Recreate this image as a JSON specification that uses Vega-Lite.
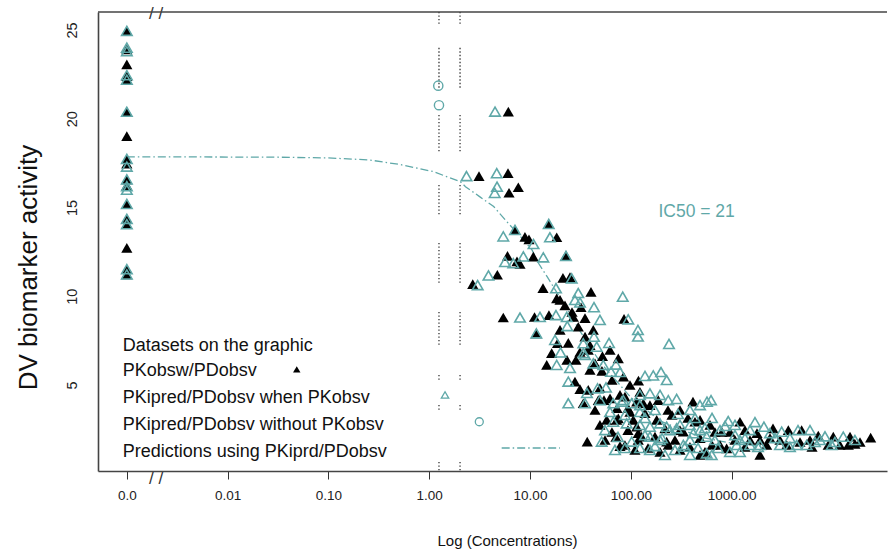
{
  "$schema": "https://vega.github.io/schema/vega-lite/v6.json",
  "width": 789,
  "height": 459,
  "autosize": {"type": "none"},
  "padding": {"left": 98, "top": 12, "right": 1, "bottom": 80},
  "background": "white",
  "config": {
    "view": {"stroke": null},
    "font": "Liberation Sans",
    "axis": {"grid": false, "labelFont": "Liberation Sans", "titleFont": "Liberation Sans", "labelColor": "#222", "titleColor": "#111", "titleFontWeight": "normal", "domainColor": "#444", "domainWidth": 1.6, "tickColor": "#333"}
  },
  "datasets": {
    "pkobs": [
      {"log_conc": -3, "activity": 24.95}, {"log_conc": -3, "activity": 23.9}, {"log_conc": -3, "activity": 23.06}, {"log_conc": -3, "activity": 22.4}, {"log_conc": -3, "activity": 22.2}, {"log_conc": -3, "activity": 20.39}, {"log_conc": -3, "activity": 19.02}, {"log_conc": -3, "activity": 17.73}, {"log_conc": -3, "activity": 17.47}, {"log_conc": -3, "activity": 16.58}, {"log_conc": -3, "activity": 16.24}, {"log_conc": -3, "activity": 15.2}, {"log_conc": -3, "activity": 14.36}, {"log_conc": -3, "activity": 14.06}, {"log_conc": -3, "activity": 12.72}, {"log_conc": -3, "activity": 11.52}, {"log_conc": -3, "activity": 11.23},
      {"log_conc": 0.785, "activity": 20.4}, {"log_conc": 0.494, "activity": 16.77}, {"log_conc": 0.782, "activity": 16.93}, {"log_conc": 0.792, "activity": 15.83}, {"log_conc": 0.884, "activity": 16.14},
      {"log_conc": 1.186, "activity": 14.07}, {"log_conc": 0.851, "activity": 13.73}, {"log_conc": 0.95, "activity": 13.34}, {"log_conc": 0.99, "activity": 13.2}, {"log_conc": 1.265, "activity": 13.32},
      {"log_conc": 0.777, "activity": 12.27}, {"log_conc": 0.871, "activity": 11.96}, {"log_conc": 0.901, "activity": 11.82}, {"log_conc": 1.033, "activity": 12.23}, {"log_conc": 1.357, "activity": 12.3},
      {"log_conc": 0.676, "activity": 11.21}, {"log_conc": 0.432, "activity": 10.68}, {"log_conc": 1.327, "activity": 11.03}, {"log_conc": 1.397, "activity": 11.08}, {"log_conc": 1.129, "activity": 10.46}, {"log_conc": 1.605, "activity": 10.24},
      {"log_conc": 1.265, "activity": 9.88}, {"log_conc": 1.347, "activity": 9.48}, {"log_conc": 1.506, "activity": 9.38}, {"log_conc": 0.735, "activity": 8.8}, {"log_conc": 1.045, "activity": 8.83}, {"log_conc": 1.188, "activity": 8.94}, {"log_conc": 1.43, "activity": 8.83}, {"log_conc": 1.479, "activity": 8.28}, {"log_conc": 1.933, "activity": 8.72},
      {"log_conc": 1.063, "activity": 7.91}, {"log_conc": 1.628, "activity": 8.1}, {"log_conc": 1.546, "activity": 7.72}, {"log_conc": 1.273, "activity": 7.35}, {"log_conc": 1.38, "activity": 7.37}, {"log_conc": 1.215, "activity": 6.79}, {"log_conc": 1.367, "activity": 6.41}, {"log_conc": 1.456, "activity": 6.41}, {"log_conc": 1.166, "activity": 6.13}, {"log_conc": 1.645, "activity": 6.22}, {"log_conc": 1.719, "activity": 6.63}, {"log_conc": 1.876, "activity": 6.5}, {"log_conc": 1.714, "activity": 5.79}, {"log_conc": 1.578, "activity": 6.97},
      {"log_conc": 1.446, "activity": 5.19}, {"log_conc": 1.496, "activity": 4.77}, {"log_conc": 1.578, "activity": 4.72}, {"log_conc": 1.678, "activity": 4.15}, {"log_conc": 1.734, "activity": 4.15}, {"log_conc": 1.893, "activity": 4.44}, {"log_conc": 1.928, "activity": 5.47}, {"log_conc": 2.076, "activity": 5.25}, {"log_conc": 1.794, "activity": 4.25}, {"log_conc": 1.942, "activity": 4.34}, {"log_conc": 2.059, "activity": 4.06}, {"log_conc": 2.124, "activity": 3.97}, {"log_conc": 2.273, "activity": 4.15}, {"log_conc": 2.617, "activity": 4.06}, {"log_conc": 1.529, "activity": 3.97},
      {"log_conc": 1.568, "activity": 1.81}, {"log_conc": 1.694, "activity": 2.75}, {"log_conc": 1.761, "activity": 3.03}, {"log_conc": 1.86, "activity": 3.03}, {"log_conc": 1.876, "activity": 3.12}, {"log_conc": 2.025, "activity": 3.03}, {"log_conc": 2.059, "activity": 2.65}, {"log_conc": 2.257, "activity": 3.03}, {"log_conc": 2.339, "activity": 2.56}, {"log_conc": 2.488, "activity": 2.46}, {"log_conc": 2.521, "activity": 2.37}, {"log_conc": 2.074, "activity": 2.28}, {"log_conc": 2.24, "activity": 2.09}, {"log_conc": 2.074, "activity": 1.9}, {"log_conc": 2.108, "activity": 2.09}, {"log_conc": 2.356, "activity": 1.81}, {"log_conc": 2.372, "activity": 1.62},
      {"log_conc": 2.951, "activity": 1.43}, {"log_conc": 3.083, "activity": 2.93}, {"log_conc": 2.637, "activity": 2.93}, {"log_conc": 3.411, "activity": 2.56}, {"log_conc": 3.563, "activity": 2.46}, {"log_conc": 3.695, "activity": 2.46}, {"log_conc": 3.86, "activity": 2.15}, {"log_conc": 4.009, "activity": 2.09}, {"log_conc": 4.175, "activity": 2.09}, {"log_conc": 4.38, "activity": 2.04}, {"log_conc": 4.158, "activity": 1.62}, {"log_conc": 3.959, "activity": 1.62}, {"log_conc": 3.547, "activity": 1.62}, {"log_conc": 3.348, "activity": 1.62}, {"log_conc": 3.282, "activity": 1.06},
      {"log_conc": 1.813, "activity": 2.35}, {"log_conc": 1.942, "activity": 1.62}, {"log_conc": 2.171, "activity": 1.45}, {"log_conc": 2.438, "activity": 1.9}, {"log_conc": 2.687, "activity": 2.01}, {"log_conc": 2.806, "activity": 1.62}, {"log_conc": 2.905, "activity": 2.35}, {"log_conc": 3.183, "activity": 1.9}, {"log_conc": 3.252, "activity": 2.29}, {"log_conc": 2.736, "activity": 1.23}, {"log_conc": 2.587, "activity": 1.51}, {"log_conc": 2.29, "activity": 1.23}, {"log_conc": 1.863, "activity": 3.7}, {"log_conc": 1.992, "activity": 3.48}, {"log_conc": 2.141, "activity": 3.42}, {"log_conc": 2.409, "activity": 3.31}, {"log_conc": 2.567, "activity": 3.14}, {"log_conc": 2.786, "activity": 2.75}, {"log_conc": 2.984, "activity": 2.35}, {"log_conc": 3.133, "activity": 1.51}, {"log_conc": 3.48, "activity": 1.9}, {"log_conc": 3.679, "activity": 1.79}, {"log_conc": 3.798, "activity": 1.51}, {"log_conc": 4.075, "activity": 1.62}, {"log_conc": 4.224, "activity": 1.68}, {"log_conc": 1.853, "activity": 2.07}, {"log_conc": 1.972, "activity": 2.46},
      {"log_conc": 1.298, "activity": 9.79}, {"log_conc": 1.417, "activity": 9.11}, {"log_conc": 1.546, "activity": 8.77}, {"log_conc": 1.298, "activity": 8.1}, {"log_conc": 1.595, "activity": 7.24}, {"log_conc": 1.496, "activity": 6.86}, {"log_conc": 1.794, "activity": 6.97}, {"log_conc": 1.595, "activity": 5.85}, {"log_conc": 1.813, "activity": 5.28}, {"log_conc": 1.992, "activity": 5.0}, {"log_conc": 1.645, "activity": 3.59}, {"log_conc": 1.972, "activity": 3.7}, {"log_conc": 2.19, "activity": 3.87}, {"log_conc": 1.694, "activity": 4.83}, {"log_conc": 2.091, "activity": 4.61}, {"log_conc": 2.369, "activity": 3.59}, {"log_conc": 1.744, "activity": 1.9}, {"log_conc": 1.893, "activity": 1.56}, {"log_conc": 2.041, "activity": 1.34}, {"log_conc": 2.488, "activity": 1.34}, {"log_conc": 2.687, "activity": 1.06}, {"log_conc": 2.885, "activity": 1.62}, {"log_conc": 3.034, "activity": 1.9}, {"log_conc": 3.282, "activity": 1.9}, {"log_conc": 2.488, "activity": 3.59}, {"log_conc": 2.687, "activity": 3.03}, {"log_conc": 2.835, "activity": 2.35}, {"log_conc": 3.133, "activity": 2.46}, {"log_conc": 3.381, "activity": 2.01}, {"log_conc": 3.778, "activity": 1.9}, {"log_conc": 4.274, "activity": 1.79}
    ],
    "pkipred": [
      {"log_conc": -3, "activity": 24.95}, {"log_conc": -3, "activity": 24.0}, {"log_conc": -3, "activity": 23.8}, {"log_conc": -3, "activity": 22.45}, {"log_conc": -3, "activity": 22.2}, {"log_conc": -3, "activity": 20.39}, {"log_conc": -3, "activity": 17.73}, {"log_conc": -3, "activity": 17.3}, {"log_conc": -3, "activity": 16.58}, {"log_conc": -3, "activity": 16.2}, {"log_conc": -3, "activity": 16.0}, {"log_conc": -3, "activity": 15.2}, {"log_conc": -3, "activity": 14.36}, {"log_conc": -3, "activity": 14.06}, {"log_conc": -3, "activity": 11.52}, {"log_conc": -3, "activity": 11.23},
      {"log_conc": 0.653, "activity": 20.4}, {"log_conc": 0.37, "activity": 16.77}, {"log_conc": 0.67, "activity": 16.93}, {"log_conc": 0.673, "activity": 16.17}, {"log_conc": 0.65, "activity": 15.82},
      {"log_conc": 1.186, "activity": 14.07}, {"log_conc": 0.851, "activity": 13.73}, {"log_conc": 0.735, "activity": 13.37}, {"log_conc": 1.035, "activity": 12.94}, {"log_conc": 1.198, "activity": 13.32},
      {"log_conc": 0.752, "activity": 11.93}, {"log_conc": 0.834, "activity": 11.86}, {"log_conc": 0.934, "activity": 12.24}, {"log_conc": 1.132, "activity": 12.19}, {"log_conc": 1.357, "activity": 12.27},
      {"log_conc": 0.588, "activity": 11.17}, {"log_conc": 0.481, "activity": 10.63}, {"log_conc": 1.414, "activity": 11.01}, {"log_conc": 1.258, "activity": 10.45}, {"log_conc": 1.479, "activity": 10.18}, {"log_conc": 1.92, "activity": 9.97}, {"log_conc": 1.496, "activity": 9.65}, {"log_conc": 1.635, "activity": 9.38},
      {"log_conc": 0.901, "activity": 8.8}, {"log_conc": 1.099, "activity": 8.83}, {"log_conc": 1.258, "activity": 8.94}, {"log_conc": 1.364, "activity": 8.83}, {"log_conc": 1.37, "activity": 8.32}, {"log_conc": 1.975, "activity": 8.7}, {"log_conc": 1.063, "activity": 7.91}, {"log_conc": 2.071, "activity": 8.1}, {"log_conc": 2.071, "activity": 7.73}, {"log_conc": 1.635, "activity": 7.72}, {"log_conc": 1.529, "activity": 7.35}, {"log_conc": 1.784, "activity": 7.37}, {"log_conc": 2.379, "activity": 7.31},
      {"log_conc": 1.303, "activity": 6.83}, {"log_conc": 1.529, "activity": 6.79}, {"log_conc": 1.662, "activity": 7.16}, {"log_conc": 1.546, "activity": 6.69}, {"log_conc": 1.265, "activity": 6.13}, {"log_conc": 1.727, "activity": 6.13}, {"log_conc": 1.853, "activity": 6.15}, {"log_conc": 1.628, "activity": 6.22}, {"log_conc": 1.804, "activity": 5.75}, {"log_conc": 1.38, "activity": 5.19},
      {"log_conc": 1.565, "activity": 4.55}, {"log_conc": 1.67, "activity": 4.81}, {"log_conc": 1.754, "activity": 4.86}, {"log_conc": 1.926, "activity": 4.15}, {"log_conc": 2.141, "activity": 5.51}, {"log_conc": 2.223, "activity": 5.54}, {"log_conc": 2.3, "activity": 5.73}, {"log_conc": 2.356, "activity": 5.28},
      {"log_conc": 1.38, "activity": 3.97}, {"log_conc": 1.546, "activity": 3.97}, {"log_conc": 1.826, "activity": 3.97}, {"log_conc": 1.91, "activity": 4.06}, {"log_conc": 2.009, "activity": 3.97}, {"log_conc": 2.091, "activity": 3.87}, {"log_conc": 2.19, "activity": 4.53}, {"log_conc": 2.372, "activity": 4.15}, {"log_conc": 2.455, "activity": 4.21}, {"log_conc": 2.756, "activity": 4.06}, {"log_conc": 2.796, "activity": 4.15},
      {"log_conc": 1.711, "activity": 1.81}, {"log_conc": 1.826, "activity": 2.93}, {"log_conc": 1.959, "activity": 2.84}, {"log_conc": 2.091, "activity": 2.75}, {"log_conc": 2.19, "activity": 2.65}, {"log_conc": 2.29, "activity": 2.84}, {"log_conc": 2.389, "activity": 2.46}, {"log_conc": 2.455, "activity": 2.56}, {"log_conc": 2.62, "activity": 2.28}, {"log_conc": 2.687, "activity": 2.46}, {"log_conc": 2.753, "activity": 2.09}, {"log_conc": 2.141, "activity": 2.18}, {"log_conc": 2.009, "activity": 1.81}, {"log_conc": 2.19, "activity": 2.09}, {"log_conc": 2.538, "activity": 1.52}, {"log_conc": 2.753, "activity": 1.15}, {"log_conc": 2.803, "activity": 1.06},
      {"log_conc": 2.967, "activity": 2.97}, {"log_conc": 3.083, "activity": 1.9}, {"log_conc": 3.183, "activity": 2.46}, {"log_conc": 3.321, "activity": 2.65}, {"log_conc": 3.497, "activity": 2.37}, {"log_conc": 3.659, "activity": 2.46}, {"log_conc": 3.778, "activity": 2.46}, {"log_conc": 3.927, "activity": 2.11}, {"log_conc": 4.108, "activity": 2.09}, {"log_conc": 3.051, "activity": 1.62}, {"log_conc": 3.183, "activity": 1.62}, {"log_conc": 3.646, "activity": 1.62}, {"log_conc": 3.745, "activity": 1.62}, {"log_conc": 3.993, "activity": 1.62}, {"log_conc": 2.521, "activity": 1.62}, {"log_conc": 2.356, "activity": 2.65},
      {"log_conc": 1.744, "activity": 2.46}, {"log_conc": 1.873, "activity": 2.07}, {"log_conc": 1.942, "activity": 1.45}, {"log_conc": 2.24, "activity": 1.56}, {"log_conc": 2.31, "activity": 2.01}, {"log_conc": 2.587, "activity": 1.9}, {"log_conc": 2.667, "activity": 1.45}, {"log_conc": 2.835, "activity": 1.9}, {"log_conc": 2.885, "activity": 2.46}, {"log_conc": 3.034, "activity": 2.18}, {"log_conc": 3.133, "activity": 2.01}, {"log_conc": 3.262, "activity": 1.51}, {"log_conc": 3.431, "activity": 2.01}, {"log_conc": 3.579, "activity": 1.51}, {"log_conc": 3.827, "activity": 1.79}, {"log_conc": 4.224, "activity": 1.9}, {"log_conc": 1.794, "activity": 3.48}, {"log_conc": 1.942, "activity": 3.31}, {"log_conc": 2.091, "activity": 3.48}, {"log_conc": 2.24, "activity": 3.59}, {"log_conc": 2.468, "activity": 3.37}, {"log_conc": 2.637, "activity": 3.14}, {"log_conc": 2.806, "activity": 3.14}, {"log_conc": 2.935, "activity": 2.69}, {"log_conc": 2.587, "activity": 2.75}, {"log_conc": 2.19, "activity": 1.34}, {"log_conc": 2.339, "activity": 1.06}, {"log_conc": 2.984, "activity": 1.23},
      {"log_conc": 1.446, "activity": 9.79}, {"log_conc": 1.694, "activity": 8.66}, {"log_conc": 1.248, "activity": 7.54}, {"log_conc": 1.397, "activity": 5.96}, {"log_conc": 1.893, "activity": 5.73}, {"log_conc": 1.694, "activity": 4.15}, {"log_conc": 2.091, "activity": 4.44}, {"log_conc": 2.29, "activity": 4.44}, {"log_conc": 2.587, "activity": 3.59}, {"log_conc": 2.687, "activity": 3.87}, {"log_conc": 1.843, "activity": 1.34}, {"log_conc": 2.091, "activity": 1.45}, {"log_conc": 2.438, "activity": 1.34}, {"log_conc": 2.587, "activity": 1.06}, {"log_conc": 2.865, "activity": 1.45}, {"log_conc": 3.083, "activity": 1.23}, {"log_conc": 3.282, "activity": 1.62}, {"log_conc": 3.48, "activity": 1.62}, {"log_conc": 3.381, "activity": 2.29}, {"log_conc": 3.579, "activity": 2.01}, {"log_conc": 3.877, "activity": 1.9}, {"log_conc": 4.025, "activity": 1.79}, {"log_conc": 2.488, "activity": 2.75}, {"log_conc": 2.736, "activity": 2.58}, {"log_conc": 3.034, "activity": 2.75}, {"log_conc": 3.232, "activity": 2.91}, {"log_conc": 2.141, "activity": 3.14}, {"log_conc": 2.29, "activity": 1.9}
    ],
    "no_pkobs": [
      {"log_conc": 0.09, "activity": 21.86},
      {"log_conc": 0.097, "activity": 20.76}
    ],
    "prediction": [
      {"log_conc": -3, "activity": 17.85}, {"log_conc": -2.5, "activity": 17.85}, {"log_conc": -2, "activity": 17.84}, {"log_conc": -1.5, "activity": 17.83}, {"log_conc": -1, "activity": 17.79}, {"log_conc": -0.6, "activity": 17.68}, {"log_conc": -0.29, "activity": 17.42}, {"log_conc": 0.04, "activity": 17.02}, {"log_conc": 0.31, "activity": 16.45}, {"log_conc": 0.36, "activity": 16.17}, {"log_conc": 0.5, "activity": 15.61}, {"log_conc": 0.64, "activity": 15.05}, {"log_conc": 0.77, "activity": 14.2}, {"log_conc": 0.9, "activity": 13.4}, {"log_conc": 1.02, "activity": 12.61}, {"log_conc": 1.08, "activity": 11.9}, {"log_conc": 1.17, "activity": 11.1}, {"log_conc": 1.3, "activity": 9.9}, {"log_conc": 1.5, "activity": 8.0}, {"log_conc": 1.7, "activity": 6.25}, {"log_conc": 2.0, "activity": 4.3}, {"log_conc": 2.3, "activity": 2.95}, {"log_conc": 2.7, "activity": 2.05}, {"log_conc": 3.0, "activity": 1.72}, {"log_conc": 3.3, "activity": 1.55}
    ],
    "cutoff_segments": [
      {"log_conc": 0.097, "activity": 26.01, "activity_to": 25.22}, {"log_conc": 0.097, "activity": 23.99, "activity_to": 21.68}, {"log_conc": 0.097, "activity": 20.21, "activity_to": 18.13}, {"log_conc": 0.097, "activity": 16.27, "activity_to": 14.58}, {"log_conc": 0.097, "activity": 13.0, "activity_to": 10.75}, {"log_conc": 0.097, "activity": 9.11, "activity_to": 7.15}, {"log_conc": 0.097, "activity": 5.56, "activity_to": 5.23}, {"log_conc": 0.097, "activity": 3.87, "activity_to": 3.59}, {"log_conc": 0.097, "activity": 0.66, "activity_to": 0.16},
      {"log_conc": 0.306, "activity": 26.01, "activity_to": 25.22}, {"log_conc": 0.306, "activity": 23.99, "activity_to": 21.68}, {"log_conc": 0.306, "activity": 20.21, "activity_to": 18.13}, {"log_conc": 0.306, "activity": 16.27, "activity_to": 14.58}, {"log_conc": 0.306, "activity": 13.0, "activity_to": 10.75}, {"log_conc": 0.306, "activity": 9.11, "activity_to": 7.15}, {"log_conc": 0.306, "activity": 5.56, "activity_to": 5.23}, {"log_conc": 0.306, "activity": 3.87, "activity_to": 3.59}, {"log_conc": 0.306, "activity": 0.66, "activity_to": 0.16}
    ],
    "key_text": [
      {"log_conc": -3.041, "activity": 6.93, "label": "Datasets on the graphic"},
      {"log_conc": -3.041, "activity": 5.51, "label": "PKobsw/PDobsv"},
      {"log_conc": -3.041, "activity": 4.0, "label": "PKipred/PDobsv when PKobsv"},
      {"log_conc": -3.041, "activity": 2.46, "label": "PKipred/PDobsv without PKobsv"},
      {"log_conc": -3.041, "activity": 0.96, "label": "Predictions using PKiprd/PDobsv"}
    ],
    "key_line": [
      {"log_conc": 0.719, "activity": 1.45},
      {"log_conc": 1.298, "activity": 1.45}
    ],
    "axis_breaks": [
      {"log_conc": -2.71, "activity": 25.9},
      {"log_conc": -2.71, "activity": -0.3}
    ]
  },
  "encoding": {
    "x": {
      "field": "log_conc",
      "type": "quantitative",
      "scale": {"domain": [-3.286, 4.542], "nice": false, "zero": false},
      "axis": {
        "title": "Log (Concentrations)",
        "values": [-3, -2, -1, 0, 1, 2, 3],
        "labelExpr": "datum.value == -3 ? '0.0' : format(pow(10, datum.value), '.2f')",
        "labelFontSize": 13.5,
        "labelPadding": 9,
        "tickSize": 8,
        "tickWidth": 1,
        "titleFontSize": 15,
        "titleX": 409,
        "titleY": 74,
        "titleAnchor": null,
        "titleAlign": "center",
        "titleBaseline": "alphabetic"
      }
    },
    "y": {
      "field": "activity",
      "type": "quantitative",
      "scale": {"domain": [0.155, 26.01], "nice": false, "zero": false},
      "axis": {
        "title": "DV biomarker activity",
        "values": [5, 10, 15, 20, 25],
        "ticks": false,
        "labelAngle": 270,
        "labelAlign": "center",
        "labelBaseline": "bottom",
        "labelFontSize": 14.5,
        "labelPadding": 19,
        "titleFontSize": 26,
        "titleAngle": 270,
        "titleX": -62,
        "titleY": 255,
        "titleAlign": "center",
        "titleBaseline": "alphabetic"
      }
    }
  },
  "layer": [
    {
      "data": {"name": "cutoff_segments"},
      "mark": {"type": "rule", "color": "#333333", "strokeWidth": 1.3, "strokeDash": [1.3, 2.2]},
      "encoding": {"y2": {"field": "activity_to"}}
    },
    {
      "data": {"name": "prediction"},
      "mark": {"type": "line", "color": "#5fa8a8", "strokeWidth": 1.3, "strokeDash": [8, 3, 1.5, 3]},
      "encoding": {}
    },
    {
      "data": {"name": "pkobs"},
      "mark": {"type": "point", "shape": "triangle-up", "filled": true, "color": "#000000", "opacity": 1, "size": 125}
    },
    {
      "data": {"name": "pkipred"},
      "mark": {"type": "point", "shape": "triangle-up", "filled": false, "color": "#5fa8a8", "opacity": 1, "size": 110, "strokeWidth": 1.6}
    },
    {
      "data": {"name": "no_pkobs"},
      "mark": {"type": "point", "shape": "circle", "filled": false, "color": "#5fa8a8", "opacity": 1, "size": 85, "strokeWidth": 1.4}
    },
    {
      "data": {"name": "key_text"},
      "mark": {"type": "text", "align": "left", "baseline": "alphabetic", "fontSize": 18, "color": "#111111"},
      "encoding": {"text": {"field": "label"}}
    },
    {
      "data": {"values": [{"log_conc": -1.314, "activity": 5.88}]},
      "mark": {"type": "point", "shape": "triangle-up", "filled": true, "color": "#000000", "opacity": 1, "size": 55}
    },
    {
      "data": {"values": [{"log_conc": 0.157, "activity": 4.44}]},
      "mark": {"type": "point", "shape": "triangle-up", "filled": false, "color": "#5fa8a8", "opacity": 1, "size": 55, "strokeWidth": 1.3}
    },
    {
      "data": {"values": [{"log_conc": 0.497, "activity": 2.93}]},
      "mark": {"type": "point", "shape": "circle", "filled": false, "color": "#5fa8a8", "opacity": 1, "size": 64, "strokeWidth": 1.3}
    },
    {
      "data": {"name": "key_line"},
      "mark": {"type": "line", "color": "#5fa8a8", "strokeWidth": 1.3, "strokeDash": [8, 3, 1.5, 3]},
      "encoding": {}
    },
    {
      "data": {"values": [{"log_conc": 2.274, "activity": 14.49, "label": "IC50 = 21"}]},
      "mark": {"type": "text", "align": "left", "baseline": "alphabetic", "fontSize": 17.5, "color": "#5fa8a8"},
      "encoding": {"text": {"field": "label"}}
    },
    {
      "data": {"name": "axis_breaks"},
      "mark": {"type": "text", "align": "center", "baseline": "middle", "fontSize": 17, "color": "#333333", "text": "/ /"}
    },
    {
      "data": {"values": [{"activity": 26.01}]},
      "mark": {"type": "rule", "color": "#444444", "strokeWidth": 1.6},
      "encoding": {"x": null}
    }
  ]
}
